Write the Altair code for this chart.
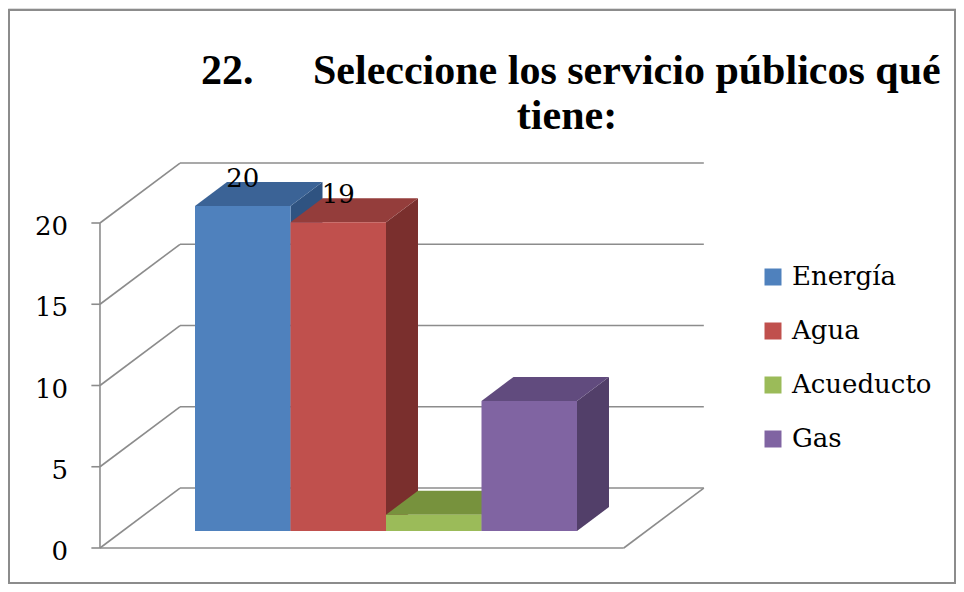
import altair as alt
import pandas as pd

# ---------------- data ----------------
categories = ["Energía", "Agua", "Acueducto", "Gas"]
values = [20, 19, 1, 8]
value_labels = ["20", "19", "", ""]
front_colors = ["#4F81BD", "#C0504D", "#9BBB59", "#8064A2"]
top_colors = ["#3B6396", "#943D3B", "#77923D", "#614B7E"]
side_colors = ["#2F5381", "#7A2F2D", "#62782F", "#523F69"]
y_ticks = [0, 5, 10, 15, 20]
title_num = ["22."]
title_main = ["Seleccione los servicio públicos qué"]
title_second = ["tiene:"]

# ---------------- 3-D projection geometry (in data units) ----------------
AXIS_U = -0.995          # front vertical axis position
FLOOR_END_U = 4.49       # right end of front floor edge
WALL_DU, WALL_DV = 0.838, 3.69   # depth of the walls
BAR_BASE = 1.046         # bars stand partway back on the floor
BAR_DU, BAR_DV = 0.335, 1.477    # depth of each bar
TICK_LEN = 0.09

xs = alt.Scale(domain=[0, 4], range=[187, 569], nice=False, zero=False)
ys = alt.Scale(domain=[0, 20], range=[540, 215], nice=False, zero=False)

# wall / floor line segments
wall_rows = []
for v in y_ticks:
    wall_rows.append(dict(x=AXIS_U + WALL_DU, x2=FLOOR_END_U + WALL_DU, y=v + WALL_DV, y2=v + WALL_DV))
    wall_rows.append(dict(x=AXIS_U, x2=AXIS_U + WALL_DU, y=v, y2=v + WALL_DV))
    wall_rows.append(dict(x=AXIS_U - TICK_LEN, x2=AXIS_U, y=v, y2=v))
wall_rows.append(dict(x=AXIS_U, x2=FLOOR_END_U, y=0, y2=0))
wall_rows.append(dict(x=FLOOR_END_U, x2=FLOOR_END_U + WALL_DU, y=0, y2=WALL_DV))
wall_rows.append(dict(x=AXIS_U, x2=AXIS_U, y=0, y2=max(y_ticks)))
walls = pd.DataFrame(wall_rows)

front_rows, side_rows, top_rows, label_rows = [], [], [], []
for i, (cat, val) in enumerate(zip(categories, values)):
    top = BAR_BASE + val
    front_rows.append(dict(cat=cat, x=i, x2=i + 1, y=BAR_BASE, y2=top))
    side_rows.append(dict(bar=cat, c=side_colors[i], x=i + 1, y=top, y2=BAR_BASE))
    side_rows.append(dict(bar=cat, c=side_colors[i], x=i + 1 + BAR_DU, y=top + BAR_DV, y2=BAR_BASE + BAR_DV))
    top_rows.append(dict(bar=cat, c=top_colors[i], y=top, x=i, x2=i + 1))
    top_rows.append(dict(bar=cat, c=top_colors[i], y=top + BAR_DV, x=i + BAR_DU, x2=i + 1 + BAR_DU))
    label_rows.append(dict(x=i + 0.5, y=top, t=value_labels[i]))
front = pd.DataFrame(front_rows)
side = pd.DataFrame(side_rows)
topf = pd.DataFrame(top_rows)
labels = pd.DataFrame(label_rows)
ticks = pd.DataFrame(dict(x=[AXIS_U] * len(y_ticks), y=y_ticks, t=[str(v) for v in y_ticks]))

GRAY = "#8c8c8c"

def X(f):
    return alt.X(f, type="quantitative", scale=xs, axis=None)

def Y(f):
    return alt.Y(f, type="quantitative", scale=ys, axis=None)

wall_layer = alt.Chart(walls).mark_rule(color=GRAY, strokeWidth=1.6).encode(
    x=X("x"), x2="x2:Q", y=Y("y"), y2="y2:Q")

side_layer = alt.Chart(side).mark_area(orient="vertical").encode(
    x=X("x"),
    y=alt.Y("y:Q", scale=ys, axis=None, stack=None),
    y2="y2:Q",
    fill=alt.Fill("c:N", scale=None),
    detail="bar:N")

top_layer = alt.Chart(topf).mark_area(orient="horizontal").encode(
    y=Y("y"),
    x=alt.X("x:Q", scale=xs, axis=None, stack=None),
    x2="x2:Q",
    fill=alt.Fill("c:N", scale=None),
    detail="bar:N")

front_layer = alt.Chart(front).mark_rect().encode(
    x=X("x"), x2="x2:Q", y=Y("y"), y2="y2:Q",
    color=alt.Color("cat:N", sort=categories,
                    scale=alt.Scale(domain=categories, range=front_colors),
                    legend=alt.Legend(title=None, orient="none", legendX=752, legendY=256,
                                      symbolType="square", symbolSize=289, symbolStrokeWidth=0,
                                      labelFont="DejaVu Serif", labelFontSize=26,
                                      labelColor="black", labelOffset=6, rowPadding=28,
                                      padding=0, labelLimit=400)))

label_layer = alt.Chart(labels).mark_text(
    baseline="alphabetic", dy=-19, font="DejaVu Serif", fontSize=26, color="black").encode(
    x=X("x"), y=Y("y"), text="t:N")

tick_layer = alt.Chart(ticks).mark_text(
    align="right", baseline="alphabetic", dx=-32, dy=12, font="DejaVu Serif",
    fontSize=26, color="black").encode(x=X("x"), y=Y("y"), text="t:N")

TFONT = dict(font="Liberation Serif", fontWeight="bold", fontSize=42, color="black",
             baseline="alphabetic")
t1 = alt.Chart(pd.DataFrame(dict(t=title_num))).mark_text(align="left", **TFONT).encode(
    x=alt.value(193), y=alt.value(76), text="t:N")
t2 = alt.Chart(pd.DataFrame(dict(t=title_main))).mark_text(align="left", **TFONT).encode(
    x=alt.value(305), y=alt.value(76), text="t:N")
t3 = alt.Chart(pd.DataFrame(dict(t=title_second))).mark_text(align="center", **TFONT).encode(
    x=alt.value(559), y=alt.value(121), text="t:N")

frame = alt.Chart(pd.DataFrame(dict(a=[0]))).mark_rect(
    fill=None, stroke=GRAY, strokeWidth=2).encode(
    x=alt.value(1), x2=alt.value(947), y=alt.value(2), y2=alt.value(575))

chart = alt.layer(
    frame, wall_layer, side_layer, top_layer, front_layer, label_layer, tick_layer, t1, t2, t3
).resolve_scale(color="independent", fill="independent").properties(
    width=948, height=576, padding=0,
    autosize=alt.AutoSizeParams(type="none"),
).configure_view(stroke=None).configure(background="white")

chart.save("out.html", embed_options={"renderer": "svg", "actions": False})
